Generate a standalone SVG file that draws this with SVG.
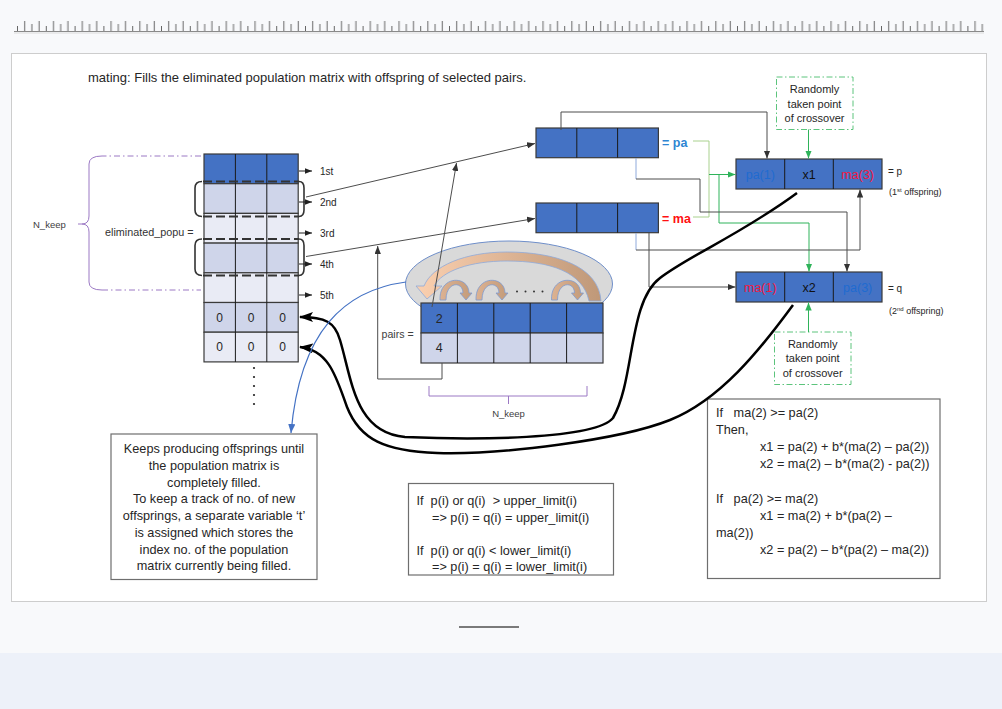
<svg xmlns="http://www.w3.org/2000/svg" width="1002" height="709" viewBox="0 0 1002 709">
<defs>
<style>
text{font-family:"Liberation Sans",Arial,sans-serif;fill:#262626}
.mr{stroke:#3a3a3a;stroke-width:1.2}
.dk{fill:#4472c4}
.lt{fill:#cfd5ea}
.vl{fill:#e9ebf5}
.ln{fill:none;stroke:#4d4d4d;stroke-width:1}
.gr{fill:none;stroke:#2fb35a;stroke-width:1}
.lg{fill:none;stroke:#a9d18e;stroke-width:1}
.bl{fill:none;stroke:#8faadc;stroke-width:1}
.pu{fill:none;stroke:#9b78c4;stroke-width:1}
.dd{stroke-dasharray:6 3 1.5 3}
.bx{fill:#fff;stroke:#6e6e6e;stroke-width:1.2}
.dash{fill:none;stroke:#333;stroke-width:2;stroke-dasharray:9 4}
.brk{fill:none;stroke:#333;stroke-width:1.6}
.crv{fill:none;stroke:#000;stroke-width:2.5}
.cb{fill:#fff;stroke:#5cc47c;stroke-width:1;stroke-dasharray:6 2.5 1.5 2.5}
.bt{font-size:12.7px}
.ct{font-size:11px;text-anchor:middle}
.cell{font-size:12.5px;text-anchor:middle}
.rl{font-size:10px}
</style>
<pattern id="ticks" patternUnits="userSpaceOnUse" x="17" y="19" width="28.8" height="12">
<path d="M0.5 12V7M7.7 12V2M14.9 12V5M22.1 12V2" stroke="#555" stroke-width="0.9"/>
</pattern>
<marker id="ah" viewBox="0 0 10 8" refX="10" refY="4" markerWidth="8" markerHeight="6.4" markerUnits="userSpaceOnUse" orient="auto"><path d="M0,0L10,4L0,8z" fill="#333"/></marker>
<marker id="ahs" viewBox="0 0 10 8" refX="10" refY="4" markerWidth="7" markerHeight="5.6" markerUnits="userSpaceOnUse" orient="auto"><path d="M0,0L10,4L0,8z" fill="#222"/></marker>
<marker id="ahg" viewBox="0 0 10 8" refX="10" refY="4" markerWidth="8" markerHeight="6.4" markerUnits="userSpaceOnUse" orient="auto"><path d="M0,0L10,4L0,8z" fill="#2fb35a"/></marker>
<marker id="ahb" viewBox="0 0 10 8" refX="10" refY="4" markerWidth="9" markerHeight="7.2" markerUnits="userSpaceOnUse" orient="auto"><path d="M0,0L10,4L0,8z" fill="#4472c4"/></marker>
<marker id="ahk" viewBox="0 0 14 10" refX="13" refY="5" markerWidth="14" markerHeight="10" markerUnits="userSpaceOnUse" orient="auto"><path d="M0,0L14,5L0,10L3,5z" fill="#000"/></marker>
<linearGradient id="gBig" x1="0" y1="0" x2="1" y2="0"><stop offset="0" stop-color="#fbd0b0"/><stop offset="1" stop-color="#bf9878"/></linearGradient>
<linearGradient id="gSm" x1="0" y1="0" x2="1" y2="0"><stop offset="0" stop-color="#dcb292"/><stop offset="1" stop-color="#c39b7a"/></linearGradient>
<path id="sa" d="M0 0C-1 -25 29 -25 29 -7L32 -7L26 0L20 -7L23 -7C23 -19 6 -19 6 0Z"/>
</defs>

<g id="page">
<rect width="1002" height="709" fill="#f8f9fb"/>
<rect y="653" width="1002" height="56" fill="#edf1f9"/>
<rect x="17" y="19" width="967" height="12" fill="url(#ticks)"/>
<line x1="14" y1="31.5" x2="984" y2="31.5" stroke="#8a8a8a" stroke-width="1.2"/>
<line x1="14" y1="33" x2="984" y2="33" stroke="#dcdcdc"/>
<rect x="11.5" y="53.5" width="975" height="548" fill="#fff" stroke="#cdcdcd"/>
<line x1="459" y1="627" x2="519" y2="627" stroke="#7a7a7a" stroke-width="2"/>
</g>

<text id="title" x="88" y="82" font-size="13">mating: Fills the eliminated population matrix with offspring of selected pairs.</text>

<g id="nkeep-left">
<path class="pu dd" d="M201 156H102M102 290H201"/>
<path class="pu" d="M102 156Q89 156 89 164V216Q89 224 82 224H78M82 224Q89 224 89 232V282Q89 290 102 290"/>
<text x="33" y="227.5" font-size="9.5" style="fill:#404040">N_keep</text>
</g>

<g id="eliminated-popu">
<text x="105" y="235.5" font-size="10.8" style="fill:#333">eliminated_popu =</text>
<rect x="204" y="154" width="94.2" height="29.7" class="dk mr"/>
<rect x="204" y="183.7" width="94.2" height="29.7" class="lt mr"/>
<rect x="204" y="213.4" width="94.2" height="29.7" class="vl mr"/>
<rect x="204" y="243.1" width="94.2" height="29.7" class="lt mr"/>
<rect x="204" y="272.8" width="94.2" height="29.7" class="vl mr"/>
<rect x="204" y="302.5" width="94.2" height="29.7" class="lt mr"/>
<rect x="204" y="332.2" width="94.2" height="29.7" class="vl mr"/>
<path d="M235.4 154V361.9M266.8 154V361.9" stroke="#1a1a1a" stroke-width="1"/>
<g font-size="12" text-anchor="middle">
<text x="219.7" y="321.5">0</text><text x="251.1" y="321.5">0</text><text x="282.5" y="321.5">0</text>
<text x="219.7" y="351.2">0</text><text x="251.1" y="351.2">0</text><text x="282.5" y="351.2">0</text>
</g>
<g fill="#222">
<circle cx="254" cy="368" r="1.1"/><circle cx="254" cy="377" r="1.1"/><circle cx="254" cy="386" r="1.1"/><circle cx="254" cy="395" r="1.1"/><circle cx="254" cy="404" r="1.1"/>
</g>
</g>

<g id="pair-brackets">
<path class="dash" d="M203 181.5H299M203 216.5H299M203 239H299M203 275.5H299"/>
<path class="brk" d="M202 181.5Q195 181.5 195 188V210Q195 216.5 202 216.5M299 181.5Q304 181.5 304 188V210Q304 216.5 299 216.5"/>
<path class="brk" d="M202 239Q195 239 195 245.5V269Q195 275.5 202 275.5M299 239Q304 239 304 245.5V269Q304 275.5 299 275.5"/>
</g>

<g id="row-labels">
<line x1="299" y1="171" x2="312" y2="171" stroke="#222" marker-end="url(#ahs)"/>
<line x1="299" y1="202" x2="312" y2="202" stroke="#222" marker-end="url(#ahs)"/>
<line x1="299" y1="233" x2="312" y2="233" stroke="#222" marker-end="url(#ahs)"/>
<line x1="299" y1="264" x2="312" y2="264" stroke="#222" marker-end="url(#ahs)"/>
<line x1="299" y1="295" x2="312" y2="295" stroke="#222" marker-end="url(#ahs)"/>
<text class="rl" x="320" y="174.5">1st</text>
<text class="rl" x="320" y="205.5">2nd</text>
<text class="rl" x="320" y="236.5">3rd</text>
<text class="rl" x="320" y="267.5">4th</text>
<text class="rl" x="320" y="298.5">5th</text>
</g>

<g id="pa">
<rect x="536" y="128" width="122.4" height="29.7" class="dk mr"/>
<path d="M576.8 128V157.7M617.6 128V157.7" stroke="#1a1a1a"/>
<text x="662" y="147" font-size="12.5" font-weight="bold" style="fill:#2f86d3">= pa</text>
</g>

<g id="ma">
<rect x="536" y="203" width="122.4" height="29.7" class="dk mr"/>
<path d="M576.8 203V232.7M617.6 203V232.7" stroke="#1a1a1a"/>
<text x="662" y="222.5" font-size="12.5" font-weight="bold" style="fill:#ff1010">= ma</text>
</g>

<g id="offspring-p">
<rect x="736" y="159" width="146" height="30" class="dk mr"/>
<path d="M784.7 159V189M833.3 159V189" stroke="#1a1a1a"/>
<text class="cell" x="760.3" y="178.5" style="fill:#1f6bd0">pa(1)</text>
<text class="cell" x="809" y="178.5" style="fill:#111">x1</text>
<text class="cell" x="857.7" y="178.5" style="fill:#f5183f">ma(3)</text>
<text x="888" y="174.5" font-size="10">= p</text>
<text x="889" y="194.5" font-size="9">(1<tspan font-size="6" dy="-3">st</tspan><tspan dy="3"> offspring)</tspan></text>
</g>

<g id="offspring-q">
<rect x="736" y="272" width="146" height="30" class="dk mr"/>
<path d="M784.7 272V302M833.3 272V302" stroke="#1a1a1a"/>
<text class="cell" x="760.3" y="291.5" style="fill:#f5183f">ma(1)</text>
<text class="cell" x="809" y="291.5" style="fill:#111">x2</text>
<text class="cell" x="857.7" y="291.5" style="fill:#1f6bd0">pa(3)</text>
<text x="888" y="291.5" font-size="10">= q</text>
<text x="889" y="314" font-size="9">(2<tspan font-size="6" dy="-3">nd</tspan><tspan dy="3"> offspring)</tspan></text>
</g>

<g id="crossover-top">
<rect x="776.5" y="77" width="76.5" height="52.5" class="cb"/>
<text class="ct" x="814.5" y="93">Randomly</text>
<text class="ct" x="814.5" y="108">taken point</text>
<text class="ct" x="814.5" y="121.7">of crossover</text>
</g>

<g id="crossover-bottom">
<rect x="774.5" y="332" width="76.5" height="52.5" class="cb"/>
<text class="ct" x="812.7" y="348">Randomly</text>
<text class="ct" x="812.7" y="362.3">taken point</text>
<text class="ct" x="812.7" y="376.7">of crossover</text>
</g>

<g id="pairs-swap">
<ellipse cx="509" cy="284" rx="103.5" ry="43" fill="#d9d9d9" stroke="#6f8fca" stroke-width="1"/>
<path d="M601 301C599 266 555 252 507 252C465 252 432 266 424 286L416 286L427 299L442 286L434 286C442 271 470 261 507 261C550 261 583 272 589 301Z" fill="url(#gBig)" stroke="#8ea9db" stroke-width="0.8"/>
<use href="#sa" x="440" y="300" fill="url(#gSm)" stroke="#7d9ad0" stroke-width="0.8"/>
<use href="#sa" x="476" y="300" fill="url(#gSm)" stroke="#7d9ad0" stroke-width="0.8"/>
<use href="#sa" x="551.5" y="300" fill="url(#gSm)" stroke="#7d9ad0" stroke-width="0.8"/>
<g fill="#333"><circle cx="517" cy="291.5" r="1"/><circle cx="525.5" cy="291.5" r="1"/><circle cx="534" cy="291.5" r="1"/><circle cx="542.5" cy="291.5" r="1"/></g>
</g>

<g id="pairs">
<text x="381.5" y="337.5" font-size="10.6" style="fill:#404040">pairs =</text>
<rect x="421" y="303" width="182" height="30" class="dk mr"/>
<rect x="421" y="333" width="182" height="30" class="lt mr"/>
<path d="M457.4 303V363M493.8 303V363M530.2 303V363M566.6 303V363" stroke="#1a1a1a"/>
<text class="cell" x="439.2" y="322.5">2</text>
<text class="cell" x="439.2" y="352">4</text>
</g>

<g id="nkeep-pairs">
<path class="pu" d="M429 386V396H587V386M508.5 396V404"/>
<text x="508.5" y="417" font-size="9.5" text-anchor="middle" style="fill:#404040">N_keep</text>
</g>

<g id="note-fill">
<rect x="111" y="434" width="206" height="145.5" class="bx"/>
<g class="bt" text-anchor="middle">
<text x="214" y="453">Keeps producing offsprings until</text>
<text x="214" y="469.8">the population matrix is</text>
<text x="214" y="486.5">completely filled.</text>
<text x="214" y="503.3">To keep a track of no. of new</text>
<text x="214" y="520">offsprings, a separate variable ‘t’</text>
<text x="214" y="536.8">is assigned which stores the</text>
<text x="214" y="553.5">index no. of the population</text>
<text x="214" y="570.3">matrix currently being filled.</text>
</g>
</g>

<g id="note-limits">
<rect x="408.5" y="483.5" width="205" height="91.5" class="bx"/>
<g class="bt">
<text x="416.5" y="505" xml:space="preserve">If  p(i) or q(i)  &gt; upper_limit(i)</text>
<text x="432" y="521.5">=&gt; p(i) = q(i) = upper_limit(i)</text>
<text x="416.5" y="555" xml:space="preserve">If  p(i) or q(i) &lt; lower_limit(i)</text>
<text x="432" y="571">=&gt; p(i) = q(i) = lower_limit(i)</text>
</g>
</g>

<g id="note-crossover">
<rect x="707.5" y="399" width="232.5" height="179.5" class="bx"/>
<g class="bt">
<text x="716" y="416.5" xml:space="preserve">If   ma(2) &gt;= pa(2)</text>
<text x="716" y="433.7">Then,</text>
<text x="760" y="450.9">x1 = pa(2) + b*(ma(2) – pa(2))</text>
<text x="760" y="468.1">x2 = ma(2) – b*(ma(2) - pa(2))</text>
<text x="716" y="502.5" xml:space="preserve">If   pa(2) &gt;= ma(2)</text>
<text x="760" y="519.7">x1 = ma(2) + b*(pa(2) –</text>
<text x="716" y="536.9">ma(2))</text>
<text x="760" y="554.1">x2 = pa(2) – b*(pa(2) – ma(2))</text>
</g>
</g>

<g id="connectors">
<line x1="306" y1="197" x2="535" y2="143.5" class="ln" marker-end="url(#ah)"/>
<line x1="306" y1="256.5" x2="535" y2="218.5" class="ln" marker-end="url(#ah)"/>
<line x1="432" y1="307" x2="456.5" y2="163" class="ln" marker-end="url(#ah)"/>
<path class="ln" d="M442 363V379H377.7V246" marker-end="url(#ah)"/>
<path class="ln" d="M561 130V112H767V158.5" marker-end="url(#ah)"/>
<path class="lg" d="M693 141H709V217H693"/>
<path class="gr" d="M709 174.5H735.5" marker-end="url(#ahg)"/>
<path class="gr" d="M719 174.5V223H809V271.5" marker-end="url(#ahg)"/>
<path class="bl" d="M636 158V179"/>
<path class="ln" d="M636 179H700V212H847V271.5" marker-end="url(#ah)"/>
<path class="bl" d="M636 233V250"/>
<path class="ln" d="M636 250H860V189.5" marker-end="url(#ah)"/>
<path class="ln" d="M649 233V287H735.5" marker-end="url(#ah)"/>
<path class="gr" d="M808.5 129.5V158.5" marker-end="url(#ahg)"/>
<path class="gr" d="M808.5 332V302.5" marker-end="url(#ahg)"/>
<path class="crv" d="M797 193C740 235 690 255 660 278C628 302 635 380 613 418C595 440 470 440 405 437C355 433 352 380 340 340C335 322 325 317 300 317" marker-end="url(#ahk)"/>
<path class="crv" d="M793 305C760 350 720 400 670 420C620 440 500 455 437 453C385 451 360 440 347 407C337 380 330 350 300 347" marker-end="url(#ahk)"/>
<path d="M406 282C345 290 300 330 291 433" fill="none" stroke="#4472c4" stroke-width="1.2" marker-end="url(#ahb)"/>
</g>
</svg>
